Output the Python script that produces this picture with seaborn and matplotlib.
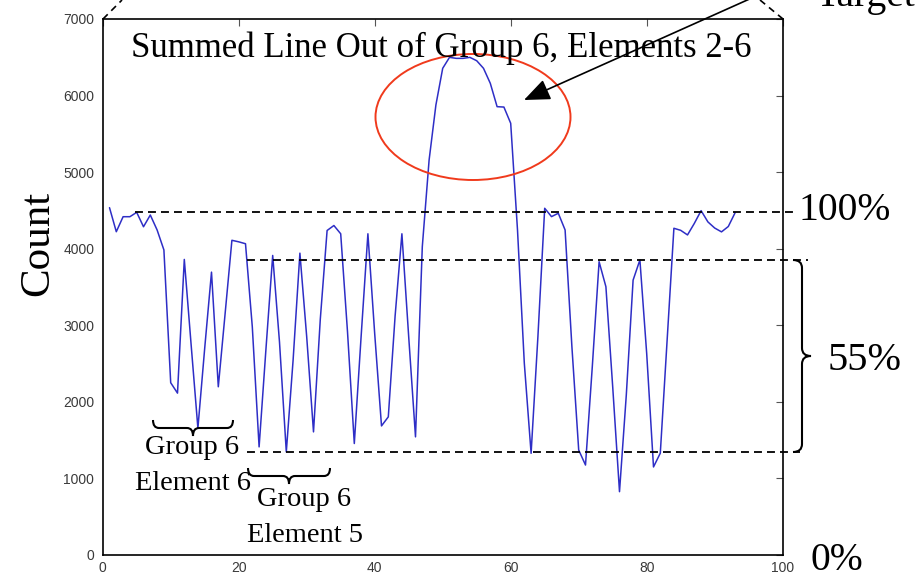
import matplotlib
matplotlib.use('Agg')
import matplotlib.pyplot as plt
import seaborn as sns
import pandas as pd
from matplotlib.path import Path
from matplotlib.patches import PathPatch, Ellipse, FancyArrowPatch
from matplotlib.lines import Line2D
from matplotlib.transforms import Affine2D

# ---------------- data ----------------
positions = list(range(1, 94))
counts = [4536, 4222, 4418, 4418, 4475, 4287, 4440, 4245, 3984, 2250,
          2114, 3860, 2750, 1656, 2700, 3694, 2197, 3150, 4110, 4090,
          4065, 2980, 1412, 2680, 3912, 2780, 1347, 2545, 3942, 2850,
          1608, 3080, 4238, 4303, 4195, 2916, 1456, 2850, 4195, 2890,
          1686, 1804, 3120, 4195, 2850, 1543, 4026, 5158, 5877, 6356,
          6499, 6486, 6486, 6499, 6455, 6356, 6160, 5855, 5850, 5638,
          4245, 2507, 1328, 2850, 4528, 4419, 4463, 4245, 2720, 1371,
          1175, 2460, 3830, 3504, 2197, 827, 2090, 3590, 3853, 2630,
          1150, 1330, 2800, 4267, 4240, 4180, 4330, 4497, 4350, 4270,
          4220, 4290, 4470]
x_ticks = [0, 20, 40, 60, 80, 100]
y_ticks = [0, 1000, 2000, 3000, 4000, 5000, 6000, 7000]
full_level = 4480     # 100 %
upper_level = 3850    # top of 55 % band
lower_level = 1350    # bottom of 55 % band

title = "Summed Line Out of Group 6, Elements 2-6"
ylabel = "Count"

# ---------------- figure ----------------
sns.set_style('white')
plt.rcParams['font.family'] = ['Liberation Serif', 'DejaVu Serif']
plt.rcParams['text.color'] = 'black'

W, H = 915, 580
fig = plt.figure(figsize=(W / 100, H / 100), dpi=100)
pix = Affine2D().scale(1 / W, -1 / H).translate(0, 1) + fig.transFigure

ax = fig.add_axes([102.7 / W, 1 - 555 / H, 680 / W, 536 / H])
df = pd.DataFrame({'Position': positions, 'Count': counts})
sns.lineplot(data=df, x='Position', y='Count', ax=ax, color='#2e2ec6', lw=1.1)
ax.set_xlim(0, 100)
ax.set_ylim(0, 7000)
ax.set_xticks(x_ticks)
ax.set_yticks(y_ticks)
ax.set_xlabel('')
ax.set_ylabel('')
ax.tick_params(direction='in', length=5, width=0.8, top=True, right=True,
               labelsize=10, labelcolor='#3a3a3a', color='#555555')
ax.tick_params(axis='y', pad=6)
ax.tick_params(axis='x', pad=4)
for lbl in ax.get_xticklabels() + ax.get_yticklabels():
    lbl.set_family(['Liberation Sans Narrow', 'Liberation Sans', 'DejaVu Sans'])
for s in ax.spines.values():
    s.set_visible(True)
    s.set_color('black')
    s.set_linewidth(1.2)

# dashed reference levels
dash = (0, (4.4, 2.8))
ax.plot([4.75, 101.8], [full_level] * 2, ls=dash, color='black', lw=1.3, clip_on=False)
ax.plot([21.2, 103.7], [upper_level] * 2, ls=dash, color='black', lw=1.3, clip_on=False)
ax.plot([21.2, 102.5], [lower_level] * 2, ls=dash, color='black', lw=1.3, clip_on=False)

# texts
fig.text(441.5, 57, title, transform=pix, ha='center', va='baseline', fontsize=25)
fig.text(38, 243, ylabel, transform=pix, ha='center', va='center', rotation=90, fontsize=31)
fig.text(798, 210, "100%", transform=pix, ha='left', va='center', fontsize=28.5)
fig.text(828, 360, "55%", transform=pix, ha='left', va='center', fontsize=29)
fig.text(810, 560, "0%", transform=pix, ha='left', va='center', fontsize=28.5)
fig.text(815, 6, "Target", transform=pix, ha='left', va='baseline', fontsize=28.5)
fig.text(192, 447, "Group 6", transform=pix, ha='center', va='center', fontsize=20.5)
fig.text(193, 483, "Element 6", transform=pix, ha='center', va='center', fontsize=20.5)
fig.text(304, 499, "Group 6", transform=pix, ha='center', va='center', fontsize=20.5)
fig.text(305, 536, "Element 5", transform=pix, ha='center', va='center', fontsize=20.5)


# braces
def hbrace(x0, x1, yend, ytip, w=6):
    ym = (yend + ytip) / 2
    m = (x0 + x1) / 2
    verts = [(x0, yend), (x0, ym), (x0 + w, ym), (m - w, ym), (m, ym), (m, ytip),
             (m, ym), (m + w, ym), (x1 - w, ym), (x1, ym), (x1, yend)]
    return verts


def vbrace(y0, y1, xend, xtip, w=8):
    xm = (xend + xtip) / 2
    m = (y0 + y1) / 2
    verts = [(xend, y0), (xm, y0), (xm, y0 + w), (xm, m - w), (xm, m), (xtip, m),
             (xm, m), (xm, m + w), (xm, y1 - w), (xm, y1), (xend, y1)]
    return verts


codes = [Path.MOVETO, Path.CURVE3, Path.CURVE3, Path.LINETO, Path.CURVE3, Path.CURVE3,
         Path.CURVE3, Path.CURVE3, Path.LINETO, Path.CURVE3, Path.CURVE3]
for verts in (hbrace(153, 233, 420, 436), hbrace(248, 330, 468, 484),
              vbrace(260, 452, 793, 811)):
    fig.add_artist(PathPatch(Path(verts, codes), transform=pix, fill=False,
                             edgecolor='black', lw=1.5))

# red ellipse, arrow, callout lines
fig.add_artist(Ellipse((473, 117), 195, 126, transform=pix, fill=False,
                       edgecolor='#f03a1c', lw=1.4))
fig.add_artist(FancyArrowPatch((754, -3), (524, 100), transform=pix,
                               arrowstyle='-|>,head_length=0.8,head_width=0.33',
                               mutation_scale=20, lw=1.2, color='black',
                               shrinkA=0, shrinkB=0))
fig.add_artist(Line2D([103, 122], [19, 0], transform=pix, ls=(0, (4, 3)),
                      color='black', lw=1.2))
fig.add_artist(Line2D([760, 783], [0, 19], transform=pix, ls=(0, (4, 3)),
                      color='black', lw=1.2))

fig.savefig('out.png', dpi=100)
